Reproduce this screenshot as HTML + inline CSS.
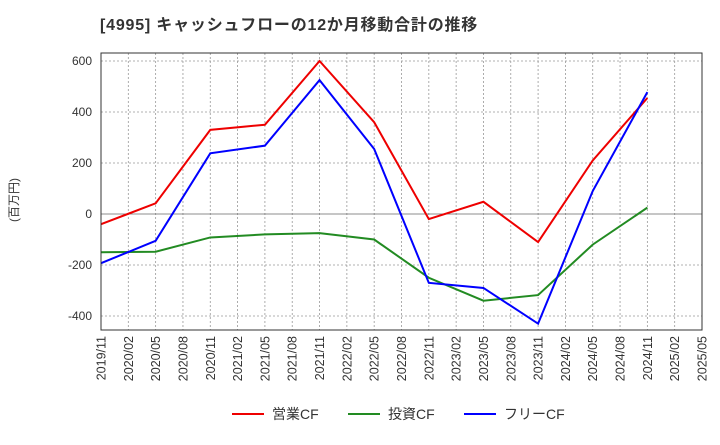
<!DOCTYPE html>
<html><head><meta charset="utf-8"><style>
body{margin:0;background:#fff;font-family:"Liberation Sans","Noto Sans CJK JP",sans-serif;}
</style></head><body>
<svg width="720" height="440" xmlns="http://www.w3.org/2000/svg" id="c">
<text x="100" y="30" font-size="16" letter-spacing="0.8" font-weight="bold" fill="#333" font-family="Liberation Sans, Noto Sans CJK JP, sans-serif">[4995]  キャッシュフローの12か月移動合計の推移</text>
<text transform="translate(18,200) rotate(-90)" text-anchor="middle" font-size="12" fill="#333" font-family="Liberation Sans, Noto Sans CJK JP, sans-serif">(百万円)</text>
<g id="grid"></g><g id="ticks"></g><g id="lines"></g>
<rect x="101" y="53" width="601" height="277" fill="none" stroke="#333" stroke-width="1"/>
<g font-size="14" fill="#333" font-family="Liberation Sans, Noto Sans CJK JP, sans-serif">
<line x1="232" y1="414" x2="264" y2="414" stroke="#e00" stroke-width="2"/><text x="272" y="419">営業CF</text>
<line x1="348" y1="414" x2="380" y2="414" stroke="#228b22" stroke-width="2"/><text x="388" y="419">投資CF</text>
<line x1="464" y1="414" x2="496" y2="414" stroke="#00f" stroke-width="2"/><text x="504" y="419">フリーCF</text>
</g>
</svg>
<script>
const xLabels=["2019/11","2020/02","2020/05","2020/08","2020/11","2021/02","2021/05","2021/08","2021/11","2022/02","2022/05","2022/08","2022/11","2023/02","2023/05","2023/08","2023/11","2024/02","2024/05","2024/08","2024/11","2025/02","2025/05"];
const yTicks=[600,400,200,0,-200,-400];
const pointIdx=[0,2,4,6,8,10,12,14,16,18,20];
const operatingCF=[-40,42,330,350,600,360,-20,48,-110,210,455];
const investingCF=[-150,-148,-92,-80,-75,-100,-250,-340,-318,-120,25];
const freeCF=[-193,-105,238,268,525,255,-270,-290,-430,90,478];
const NS="http://www.w3.org/2000/svg";
const x=i=>101+i*601/22;
const y=v=>214-v*51/200;
function mk(t,a,p){const e=document.createElementNS(NS,t);for(const k in a)e.setAttribute(k,a[k]);p.appendChild(e);return e;}
const grid=document.getElementById('grid'),ticks=document.getElementById('ticks'),lines=document.getElementById('lines');
xLabels.forEach((l,i)=>{
 const g=mk('line',{x1:x(i),x2:x(i),y1:53,y2:330,stroke:'#999','stroke-dasharray':'2,2','stroke-width':0.8},grid);
 
 
 const t=mk('text',{transform:`translate(${x(i)+4.5},336) rotate(-90)`,'text-anchor':'end','font-size':12.5,fill:'#333'},ticks);
 t.textContent=l;
 
 
});
yTicks.forEach(v=>{
 const g=mk('line',{x1:101,x2:702,y1:y(v),y2:y(v),stroke:v===0?'#666':'#999','stroke-dasharray':v===0?'':'2,2','stroke-width':0.8},grid);
 
 
 const t=mk('text',{x:92,y:y(v)+4,'text-anchor':'end','font-size':12,fill:'#333'},ticks);
 t.textContent=v;
 
 
});
[[investingCF,'#228b22','investing-cf-line'],[operatingCF,'#e00','operating-cf-line'],[freeCF,'#00f','free-cf-line']].forEach(([d,c,n])=>{
 const p=mk('polyline',{points:d.map((v,i)=>x(pointIdx[i])+','+y(v)).join(' '),fill:'none',stroke:c,'stroke-width':2},lines);
 
 
});
</script>
</body></html>
